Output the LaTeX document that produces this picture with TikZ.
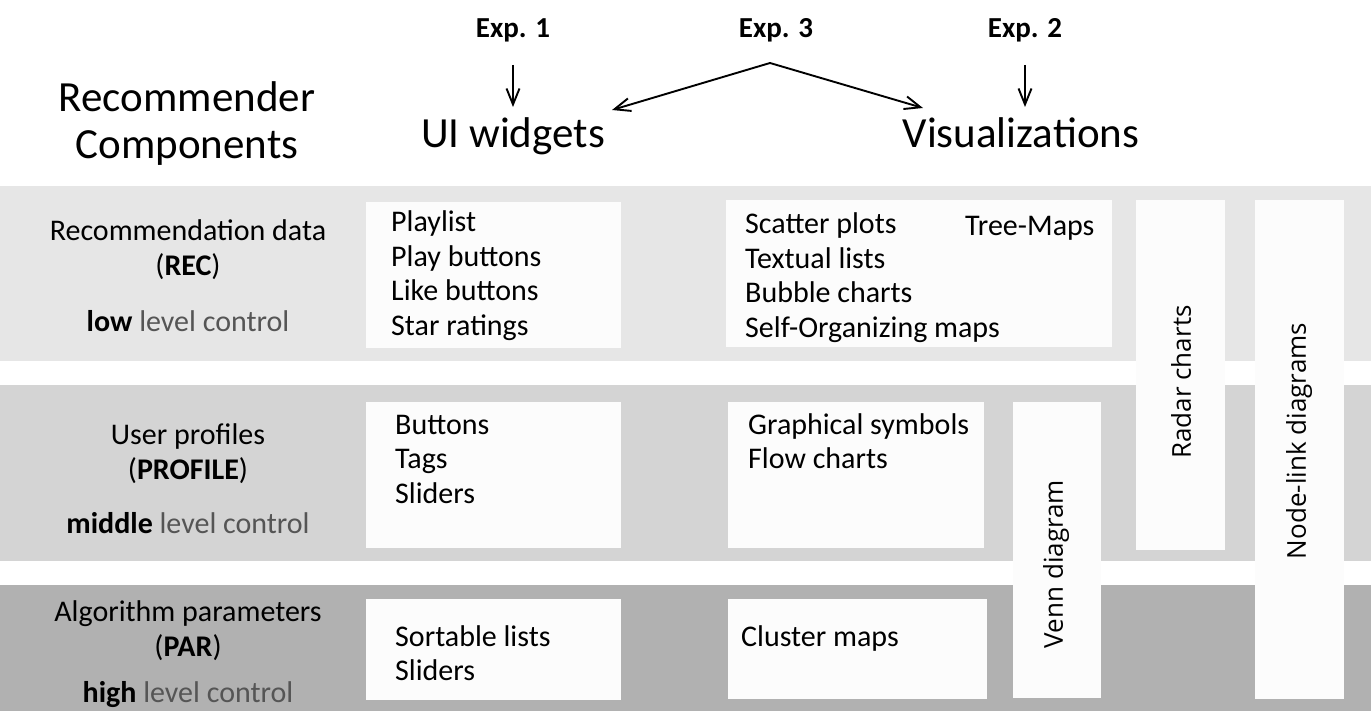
\documentclass[tikz,border=0pt]{standalone}
\usepackage{fontspec}
\setmainfont{Carlito}
\newfontfamily\rotfont{Open Sans}
\usetikzlibrary{arrows.meta, positioning}
\definecolor{recgray}{HTML}{E6E6E6}
\definecolor{profgray}{HTML}{D4D4D4}
\definecolor{pargray}{HTML}{B1B1B1}
\definecolor{boxwhite}{HTML}{FCFCFC}
\definecolor{lvlgray}{HTML}{555555}
\tikzset{
  box/.style={fill=boxwhite, inner sep=0pt, anchor=north west},
  item/.style={anchor=base west, inner sep=0pt, font=\fontsize{30}{34.5}\selectfont},
  lbl/.style={anchor=base, inner sep=0pt, font=\fontsize{30}{36}\selectfont},
  head/.style={anchor=base, inner sep=0pt, font=\fontsize{43}{47}\selectfont},
  exptag/.style={anchor=base, inner sep=0pt, font=\bfseries\fontsize{29}{34}\selectfont},
  rot/.style={rotate=90, inner sep=0pt, font=\rotfont\fontsize{26}{30}\selectfont},
  arr/.style={-{Straight Barb[length=16pt,width=13pt]}, line width=1.9pt}
}
\begin{document}
\begin{tikzpicture}[x=1pt,y=-1pt]
		\useasboundingbox (0,0) rectangle (1371,711);
		% bands
		\fill[recgray] (0,186) rectangle (1371,361);
		\fill[profgray] (0,385) rectangle (1371,561);
		\fill[pargray] (0,585) rectangle (1371,711);
		% white boxes
		\node[box, minimum width=255, minimum height=146] (uirec) at (366,202) {};
		\node[box, minimum width=255, minimum height=146] (uiprof) at (366,402) {};
		\node[box, minimum width=255, minimum height=101] (uipar) at (366,599) {};
		\node[box, minimum width=386, minimum height=147] (visrec) at (726,200) {};
		\node[box, minimum width=256, minimum height=146] (visprof) at (728,402) {};
		\node[box, minimum width=259, minimum height=100] (vispar) at (728,599) {};
		\node[box, minimum width=88, minimum height=296] (venn) at (1013,402) {};
		\node[box, minimum width=89, minimum height=350] (radar) at (1136,200) {};
		\node[box, minimum width=89, minimum height=499] (nodelink) at (1255,200) {};
		% headings
		\node[head] (comp) at (187,112) {Recommender};
		\node[head] (comp2) at (187,159) {Components};
		\node[head] (uiw) at (513,148) {UI widgets};
		\node[head] (vis) at (1021,148) {Visualizations};
		\node[exptag] (exp1) at (513,38) {Exp. 1};
		\node[exptag] (exp3) at (776,38) {Exp. 3};
		\node[exptag] (exp2) at (1025,38) {Exp. 2};
		\coordinate (fork) at (770,63);
		\coordinate (uitip) at (612,110);
		\coordinate (vistip) at (923,108);
		\draw[arr] ([yshift=-27pt]exp1.base) -- ([yshift=41pt]uiw.base);
		\draw[arr] ([yshift=-27pt]exp2.base) -- ([yshift=41pt,xshift=4pt]vis.base);
		\draw[arr] (fork) -- (uitip);
		\draw[arr] (fork) -- (vistip);
		% left labels
		\node[lbl] (rec) at (188,241) {Recommendation data};
		\node[lbl] (recabbr) at (188,276) {(\textbf{REC})};
		\node[lbl] (reclvl) at (188,331) {\textbf{low} \textcolor{lvlgray}{level control}};
		\node[lbl] (prof) at (188,444) {User profiles};
		\node[lbl] (profabbr) at (188,479) {(\textbf{PROFILE})};
		\node[lbl] (proflvl) at (188,533) {\textbf{middle} \textcolor{lvlgray}{level control}};
		\node[lbl] (par) at (188,621) {Algorithm parameters};
		\node[lbl] (parabbr) at (188,656) {(\textbf{PAR})};
		\node[lbl] (parlvl) at (188,702) {\textbf{high} \textcolor{lvlgray}{level control}};
		% lists
		\foreach \t [count=\i from 0] in {Playlist, Play buttons, Like buttons, Star ratings}
			\node[item] (uirec-\i) at (391,232+34.5*\i) {\t};
		\foreach \t [count=\i from 0] in {Buttons, Tags, Sliders}
			\node[item] (uiprof-\i) at (395,434+34.5*\i) {\t};
		\foreach \t [count=\i from 0] in {Sortable lists, Sliders}
			\node[item] (uipar-\i) at (395,646+34.5*\i) {\t};
		\foreach \t [count=\i from 0] in {Scatter plots, Textual lists, Bubble charts, Self-Organizing maps}
			\node[item] (visrec-\i) at (745,234+34.5*\i) {\t};
		\node[item] (treemaps) at (965,236) {Tree-Maps};
		\foreach \t [count=\i from 0] in {Graphical symbols, Flow charts}
			\node[item] (visprof-\i) at (748,434+34.5*\i) {\t};
		\node[item] (cluster) at (741,646) {Cluster maps};
		% rotated labels
		\node[rot] (venn-t) at (1056,564) {Venn diagram};
		\node[rot] (radar-t) at (1181,382) {Radar charts};
		\node[rot] (nodelink-t) at (1299,441) {Node-link diagrams};
	\end{tikzpicture}
\end{document}
